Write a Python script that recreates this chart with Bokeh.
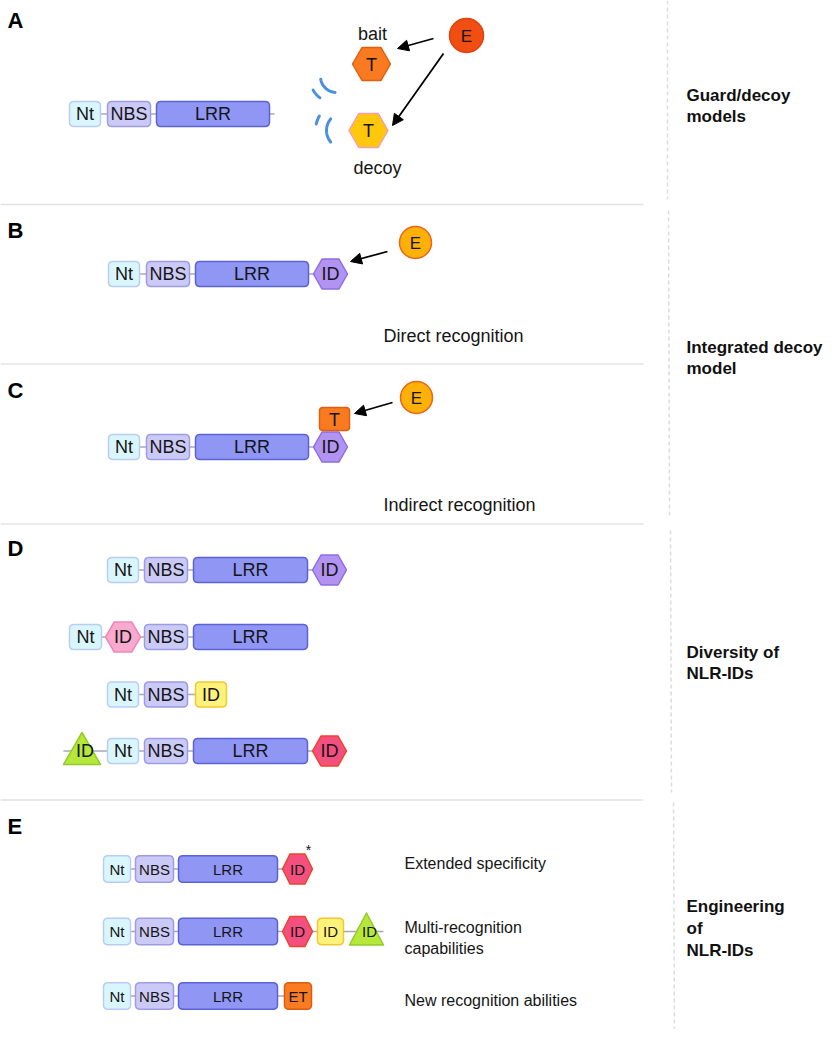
import numpy as np
from bokeh.plotting import figure
from bokeh.models import Range1d, Arrow, NormalHead, ColumnDataSource
from bokeh.core.properties import value
from bokeh.embed import file_html
from bokeh.resources import INLINE

FONT = "Liberation Sans"

# ---------------- data (labels / architectures) ----------------
panel_letters = ["A", "B", "C", "D", "E"]
section_titles = [["Guard/decoy", "models"],
                  ["Integrated decoy", "model"],
                  ["Diversity of", "NLR-IDs"],
                  ["Engineering", "of", "NLR-IDs"]]
recognition_notes = ["Direct recognition", "Indirect recognition"]
engineering_notes = [["Extended specificity"],
                     ["Multi-recognition", "capabilities"],
                     ["New recognition abilities"]]
target_labels = ["bait", "decoy"]
effector_label = "E"
target_label = "T"

# domain architectures: (label, kind)
arch_A = [("Nt", "nt"), ("NBS", "nbs"), ("LRR", "lrr")]
arch_B = [("Nt", "nt"), ("NBS", "nbs"), ("LRR", "lrr"), ("ID", "hex_purple")]
arch_C = [("Nt", "nt"), ("NBS", "nbs"), ("LRR", "lrr"), ("ID", "hex_purple")]
arch_D1 = [("Nt", "nt"), ("NBS", "nbs"), ("LRR", "lrr"), ("ID", "hex_purple")]
arch_D2 = [("Nt", "nt"), ("ID", "hex_pink"), ("NBS", "nbs"), ("LRR", "lrr")]
arch_D3 = [("Nt", "nt"), ("NBS", "nbs"), ("ID", "box_yellow")]
arch_D4 = [("ID", "tri_green"), ("Nt", "nt"), ("NBS", "nbs"), ("LRR", "lrr"), ("ID", "hex_red")]
arch_E1 = [("Nt", "nt"), ("NBS", "nbs"), ("LRR", "lrr"), ("ID", "hex_red")]
arch_E2 = [("Nt", "nt"), ("NBS", "nbs"), ("LRR", "lrr"), ("ID", "hex_red"), ("ID", "box_yellow"), ("ID", "tri_green")]
arch_E3 = [("Nt", "nt"), ("NBS", "nbs"), ("LRR", "lrr"), ("ET", "box_orange")]

# ---------------- layout (positions, sizes) ----------------
xs_ABC = [(108, 139), (146, 189), (195, 308), (313, 347)]
xs_E = [(103, 130), (135, 173), (178, 277)]
rows = [
    dict(arch=arch_A, xs=[(69, 100), (107, 150), (156, 269)], cy=113.5, h=25, fs="18px", tail=274),
    dict(arch=arch_B, xs=xs_ABC, cy=273.5, h=25, fs="18px"),
    dict(arch=arch_C, xs=xs_ABC, cy=446.5, h=25, fs="18px"),
    dict(arch=arch_D1, xs=[(107, 138), (144, 187), (193, 307), (312, 346)], cy=569.5, h=25, fs="18px"),
    dict(arch=arch_D2, xs=[(69, 101), (105, 140), (144, 187), (193, 307)], cy=636.5, h=25, fs="18px"),
    dict(arch=arch_D3, xs=[(107, 138), (144, 187), (195, 226)], cy=694, h=25, fs="18px"),
    dict(arch=arch_D4, xs=[(63, 100), (107, 138), (144, 187), (193, 307), (312, 346)], cy=750.5, h=25, fs="18px"),
    dict(arch=arch_E1, xs=xs_E + [(282, 312)], cy=868.5, h=26.5, fs="15px"),
    dict(arch=arch_E2, xs=xs_E + [(282, 312), (317, 343), (349, 383)], cy=931, h=26.5, fs="15px"),
    dict(arch=arch_E3, xs=xs_E + [(284, 311)], cy=995.5, h=26.5, fs="15px"),
]

styles = {
    "nt": ("#DAF6FD", "#B9CCF2"),
    "nbs": ("#CBCAF7", "#9D9BE6"),
    "lrr": ("#8F96F4", "#5B62D6"),
    "hex_purple": ("#B293F1", "#8C6DE2"),
    "hex_pink": ("#F8AACF", "#EF86BC"),
    "hex_red": ("#F4507F", "#EC4428"),
    "box_yellow": ("#FFF27A", "#F0C832"),
    "tri_green": ("#B6E83C", "#93CB2A"),
    "box_orange": ("#F97C22", "#D95C12"),
}


def rrect(x0, x1, y0, y1, r=4.0, n=6):
    xs, ys = [], []
    for cx, cy, a0 in [(x1 - r, y0 + r, -90), (x1 - r, y1 - r, 0), (x0 + r, y1 - r, 90), (x0 + r, y0 + r, 180)]:
        t = np.radians(np.linspace(a0, a0 + 90, n))
        xs += list(cx + r * np.cos(t))
        ys += list(cy + r * np.sin(t))
    return xs, ys


def hexagon(x0, x1, cy, h):
    w = x1 - x0
    q = w * 0.25
    return ([x0, x0 + q, x1 - q, x1, x1 - q, x0 + q],
            [cy, cy - h / 2, cy - h / 2, cy, cy + h / 2, cy + h / 2])


def triangle(x0, x1, y0, y1):
    return [x0, (x0 + x1) / 2, x1], [y1, y0, y1]


p = figure(width=824, height=1029, x_range=Range1d(0, 824), y_range=Range1d(1029, 0),
           output_backend="svg", toolbar_location=None, min_border=0)
p.axis.visible = False
p.grid.visible = False
p.outline_line_color = None
p.background_fill_color = "white"
p.border_fill_color = "white"

# separators
sep_y = [204, 363.5, 523.5, 799.5]
p.multi_line(xs=[[0, 643]] * len(sep_y), ys=[[y, y] for y in sep_y], line_color="#E3E3E3", line_width=1.5)
vx = [[667, 667], [668, 669], [670, 671], [673, 674]]
vy = [[0, 199], [210, 515], [530, 792], [802, 1045]]
p.multi_line(xs=vx, ys=vy, line_color="#D9DDDD", line_width=1.5, line_dash="4 3")

# connectors
cxs, cys = [], []
for r in rows:
    x_start = r["xs"][0][0]
    x_end = r.get("tail", r["xs"][-1][1])
    cxs.append([x_start, x_end])
    cys.append([r["cy"], r["cy"]])
p.multi_line(xs=cxs, ys=cys, line_color="#A5A8B6", line_width=1.5)

# shapes
px, py, pf, pl = [], [], [], []
tx, ty, tt, tfs = [], [], [], []
for r in rows:
    cy, h = r["cy"], r["h"]
    for (lab, kind), (x0, x1) in zip(r["arch"], r["xs"]):
        if kind.startswith("hex"):
            sx, sy = hexagon(x0, x1, cy, 30)
        elif kind.startswith("tri"):
            sx, sy = triangle(x0, x1, cy - 18.5, cy + 13.5)
        else:
            sx, sy = rrect(x0, x1, cy - h / 2, cy + h / 2)
        px.append(sx); py.append(sy)
        pf.append(styles[kind][0]); pl.append(styles[kind][1])
        tx.append((x0 + x1) / 2 + (3 if kind.startswith("tri") else 0)); ty.append(cy); tt.append(lab); tfs.append(r["fs"])

# T box in panel C
sx, sy = rrect(319, 349, 407, 430, r=3)
px.append(sx); py.append(sy); pf.append("#F97A20"); pl.append("#DD5F10")
tx.append(334); ty.append(419); tt.append(target_label); tfs.append("18px")
# bait / decoy targets (panel A)
sx, sy = hexagon(352, 390, 63.5, 33)
px.append(sx); py.append(sy); pf.append("#F97A20"); pl.append("#DD5F10")
tx.append(371); ty.append(64); tt.append(target_label); tfs.append("18px")
sx, sy = hexagon(348.5, 387.5, 130, 34)
px.append(sx); py.append(sy); pf.append("#FFC80C"); pl.append("#F59CB5")
tx.append(368); ty.append(130.5); tt.append(target_label); tfs.append("18px")

p.patches(xs=px, ys=py, fill_color=pf, line_color=pl, line_width=1.5, line_join="round")

# effectors
p.circle(x=[466], y=[35], radius=17, fill_color="#F04E13", line_color="#E0400C", line_width=1.5)
p.circle(x=[415, 416], y=[242, 397], radius=16, fill_color="#FFB108", line_color="#E9641B", line_width=1.5)
for (x, y) in [(466, 35.5), (415, 242.5), (416, 397.5)]:
    tx.append(x); ty.append(y); tt.append(effector_label); tfs.append("17px")

src = ColumnDataSource(dict(x=tx, y=ty, text=tt, fs=tfs))
p.text(x="x", y="y", text="text", source=src, text_font=value(FONT), text_font_size="fs",
       text_align="center", text_baseline="middle", text_color="#151515")

# arrows
arrows = [((433, 38), (397, 48)), ((443, 53), (392, 125)), ((387, 251), (350, 261)), ((392, 402), (354, 413))]
for (xs0, ys0), (xe, ye) in arrows:
    p.add_layout(Arrow(x_start=xs0, y_start=ys0, x_end=xe, y_end=ye, line_width=1.8, line_color="black",
                       end=NormalHead(size=11, fill_color="black", line_color="black", line_width=1)))

# signal waves
wx, wy = [], []
for cx, cy, rr, a0, a1 in [(336, 76, 16, 95, 170), (336, 76, 27, 128, 150),
                           (344, 130, 18, 140, 220), (344, 130, 29, 193, 210)]:
    t = np.radians(np.linspace(a0, a1, 20))
    wx.append(list(cx + rr * np.cos(t)))
    wy.append(list(cy + rr * np.sin(t)))
p.multi_line(xs=wx, ys=wy, line_color="#4A8FE0", line_width=3, line_cap="round")

# small texts
p.text(x=[372, 377], y=[33, 167], text=target_labels, text_font=value(FONT), text_font_size="18px",
       text_align="center", text_baseline="middle", text_color="#151515")
p.text(x=[383, 383], y=[335, 504], text=recognition_notes, text_font=value(FONT), text_font_size="18px",
       text_align="left", text_baseline="middle", text_color="#151515")
en_y = [[863], [927, 948], [1000]]
ex, ey, et = [], [], []
for lines, ys_ in zip(engineering_notes, en_y):
    for t_, y_ in zip(lines, ys_):
        ex.append(404); ey.append(y_); et.append(t_)
p.text(x=ex, y=ey, text=et, text_font=value(FONT), text_font_size="16px",
       text_align="left", text_baseline="middle", text_color="#151515")
p.text(x=[308], y=[849], text=["*"], text_font=value(FONT), text_font_size="14px",
       text_align="center", text_baseline="middle", text_color="#151515")

# panel letters
p.text(x=[7] * 5, y=[20, 229.5, 390, 548, 826], text=panel_letters, text_font=value(FONT),
       text_font_size="22px", text_font_style="bold", text_align="left", text_baseline="middle", text_color="black")

# section titles
title_y = [[95, 116], [347, 368], [652, 673], [906, 928, 950]]
sx_, sy_, st_ = [], [], []
for lines, ys_ in zip(section_titles, title_y):
    for t_, y_ in zip(lines, ys_):
        sx_.append(686); sy_.append(y_); st_.append(t_)
p.text(x=sx_, y=sy_, text=st_, text_font=value(FONT), text_font_size="17px", text_font_style="bold",
       text_align="left", text_baseline="middle", text_color="#111111")

open("out.html", "w").write(file_html(p, INLINE))
